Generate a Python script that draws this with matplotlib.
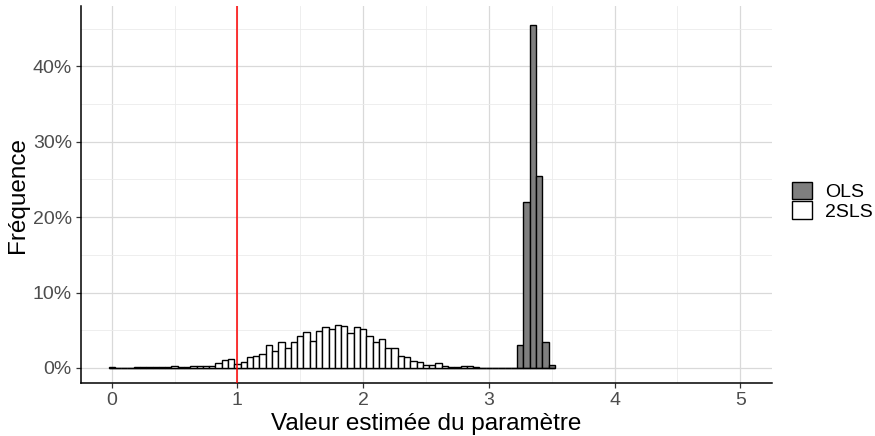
import numpy as np
import matplotlib
matplotlib.use("Agg")
import matplotlib.pyplot as plt

plt.rcParams['font.family'] = ['Liberation Sans', 'DejaVu Sans']

# bin centres (width 0.05) and percentages
bin_width = 0.05
bins = np.round(np.arange(0, 71) * bin_width, 2)   # 0.00 .. 3.50

tsls_pct = [0.15, 0.05, 0.05, 0.05, 0.1, 0.15, 0.1, 0.1, 0.15, 0.15,
            0.2, 0.15, 0.15, 0.2, 0.2, 0.3, 0.25, 0.6, 1.0, 1.15,
            0.5, 0.8, 1.4, 1.6, 1.8, 3.1, 2.2, 3.4, 2.7, 3.5,
            4.3, 4.8, 3.6, 4.9, 5.4, 5.2, 5.7, 5.6, 4.6, 5.4,
            5.2, 4.2, 3.4, 3.8, 2.7, 2.6, 1.6, 1.4, 0.9, 0.8,
            0.45, 0.45, 0.6, 0.3, 0.15, 0.1, 0.25, 0.25, 0.1, 0.05,
            0, 0, 0, 0, 0, 0, 0, 0, 0, 0, 0]

ols_pct = [0] * 65 + [3.0, 22.0, 45.5, 25.5, 3.5, 0.4]

true_value = 1
x_ticks = [0, 1, 2, 3, 4, 5]
y_ticks = [0, 10, 20, 30, 40]

fig = plt.figure(figsize=(8.75, 4.36), dpi=100)
ax = fig.add_axes([81 / 875, (436 - 383.3) / 436, (771.7 - 81) / 875, (383.3 - 6) / 436])

# grid
for v in np.arange(-0.5, 5.6, 0.5):
    major = float(v).is_integer()
    ax.axvline(v, color='#d9d9d9' if major else '#ebebeb', lw=0.9 if major else 0.6, zorder=0)
for v in np.arange(0, 50, 5):
    major = v % 10 == 0
    ax.axhline(v, color='#d9d9d9' if major else '#ebebeb', lw=0.9 if major else 0.6, zorder=0)

ax.bar(bins, ols_pct, width=bin_width, color='#7f7f7f', edgecolor='black', linewidth=1.0, zorder=2, label='OLS')
ax.bar(bins, tsls_pct, width=bin_width, color='white', edgecolor='black', linewidth=1.0, zorder=2, label='2SLS')

ax.axvline(true_value, color='red', lw=1.1, zorder=3)

ax.set_xlim(-0.244, 5.25)
ax.set_ylim(-2.03, 48.0)
ax.set_xticks(x_ticks)
ax.set_xticklabels([str(t) for t in x_ticks])
ax.set_yticks(y_ticks)
ax.set_yticklabels([f'{t}%' for t in y_ticks])

for side in ['top', 'right']:
    ax.spines[side].set_visible(False)
for side in ['left', 'bottom']:
    ax.spines[side].set_linewidth(1.1)
    ax.spines[side].set_color('black')

ax.tick_params(axis='both', length=3.5, width=0.9, color='#333333', labelcolor='#4d4d4d', labelsize=14, pad=3)

ax.set_xlabel('Valeur estimée du paramètre', fontsize=17.5, color='black', labelpad=3)
ax.set_ylabel('Fréquence', fontsize=17.5, color='black', labelpad=3)

leg = ax.legend(loc='center left', bbox_to_anchor=(1.0294, 0.483), frameon=False, fontsize=14,
                handlelength=1.03, handleheight=1.03, handletextpad=0.65, labelspacing=0.0,
                borderpad=0, borderaxespad=0)

fig.savefig('out.png', dpi=100)
